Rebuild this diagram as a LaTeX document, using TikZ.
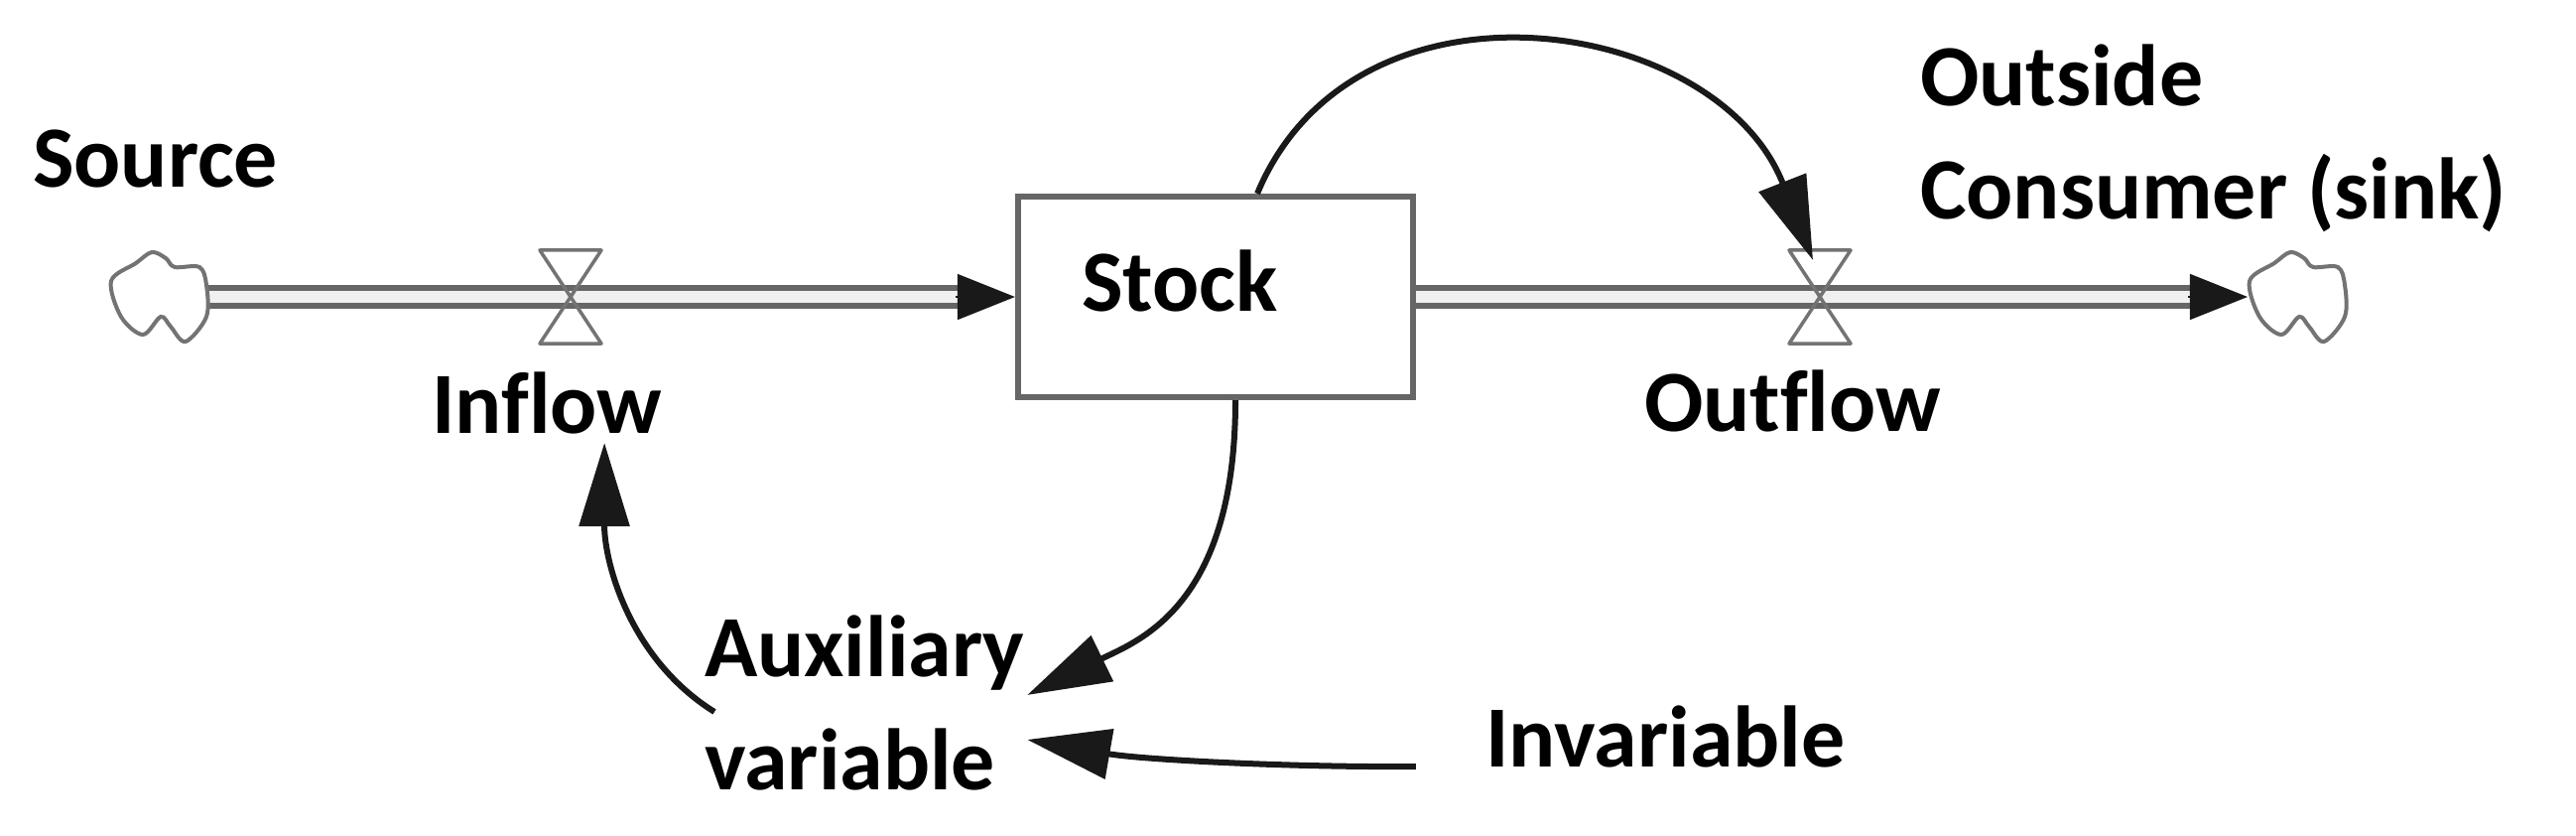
\documentclass[tikz,border=0pt]{standalone}
\usepackage{fontspec}
\setmainfont{Carlito}[Ligatures=NoCommon]
\usetikzlibrary{arrows.meta,calc}
\begin{document}
\begin{tikzpicture}[x=0.01cm,y=-0.01cm,
  lbl/.style={font=\fontsize{25}{32.2}\selectfont\bfseries, inner sep=0pt, outer sep=0pt, align=left},
  pipe/.style={draw=gray!80!black, line width=0.06cm, double=gray!12, double distance=0.12cm},
  pipehead/.style={draw=black!90, line width=0.4pt, -{Triangle[length=0.58cm,width=0.46cm]}},
  info/.style={draw=black!90, line width=0.06cm, -{Triangle[length=0.84cm,width=0.5cm]}},
  stockbox/.style={draw=gray!80!black, line width=0.06cm, fill=white, minimum width=3.98cm, minimum height=2.02cm, inner sep=0pt},
  valvebox/.style={minimum width=0.62cm, minimum height=0.94cm, inner sep=0pt, outer sep=0pt},
  cloudbox/.style={minimum width=1cm, minimum height=0.9cm, inner sep=0pt, outer sep=0pt},
  valveline/.style={draw=gray!90!black, line width=0.035cm, line join=round},
  cloudline/.style={draw=gray!90!black, line width=0.04cm, fill=white}
]
\useasboundingbox[fill=white] (0,0) rectangle (2596,841);

% nodes
\node[stockbox] (stock) at (1225,299) {};
\node[valvebox] (iv) at (575,299) {};
\node[valvebox] (ov) at (1834,299) {};
\node[cloudbox] (src) at (160,299) {};
\node[cloudbox] (snk) at (2315,299) {};

% pipes
\draw[pipe, shorten >=0.5cm] (src.east) -- (stock.west);
\draw[pipehead] ([xshift=-0.6cm]stock.west) -- (stock.west);
\draw[pipe, shorten >=0.5cm] (stock.east) -- (snk.west);
\draw[pipehead] ([xshift=-0.6cm]snk.west) -- (snk.west);

% valves
\draw[valveline] (iv.north west) -- (iv.north east) -- (iv.south west) -- (iv.south east) -- cycle;
\draw[valveline] (ov.north west) -- (ov.north east) -- (ov.south west) -- (ov.south east) -- cycle;

% clouds
\draw[cloudline, shift={(src.center)}] plot[smooth cycle, tension=0.55] coordinates {(-48,-16) (-23,-34) (-7,-45) (7,-39) (16,-30) (41,-30) (48,-12) (48,20) (27,45) (12,30) (2,20) (-16,38) (-38,20)};
\draw[cloudline, shift={(snk.center)}] plot[smooth cycle, tension=0.55] coordinates {(-48,-16) (-23,-34) (-7,-45) (7,-39) (16,-30) (41,-30) (48,-12) (48,20) (27,45) (12,30) (2,20) (-16,38) (-38,20)};

% labels
\node[lbl, anchor=base west] (source) at (33,188) {Source};
\node[lbl, anchor=base west] (inflow) at (435,436) {Inflow};
\node[lbl, anchor=base west] (stocktxt) at (1090,313) {Stock};
\node[lbl, anchor=base west] (outflow) at (1657,434) {Outflow};
\node[lbl, anchor=base west] (sink) at (1935,220) {Outside\\Consumer (sink)};
\node[lbl, anchor=base west] (aux) at (710,795) {Auxiliary\\variable};
\node[lbl, anchor=base west] (inv) at (1497,772) {Invariable};

% information links
\draw[info] ([xshift=0.42cm]stock.north) .. controls (1365,-40) and (1730,15) .. ([shift={(-0.07cm,-0.1cm)}]ov.north);
\draw[info] ([xshift=0.2cm]stock.south) .. controls (1245,610) and (1148,645) .. ([shift={(0.03cm,0.95cm)}]aux.base east);
\draw[info] ([xshift=-0.7cm]inv.base west) .. controls (1300,773) and (1150,765) .. ([shift={(0.03cm,0.5cm)}]aux.base east);
\draw[info] ([shift={(0.1cm,0.78cm)}]aux.base west) .. controls (635,664) and (609,567) .. ([shift={(1.74cm,-0.1cm)}]inflow.base west);
\end{tikzpicture}
\end{document}
